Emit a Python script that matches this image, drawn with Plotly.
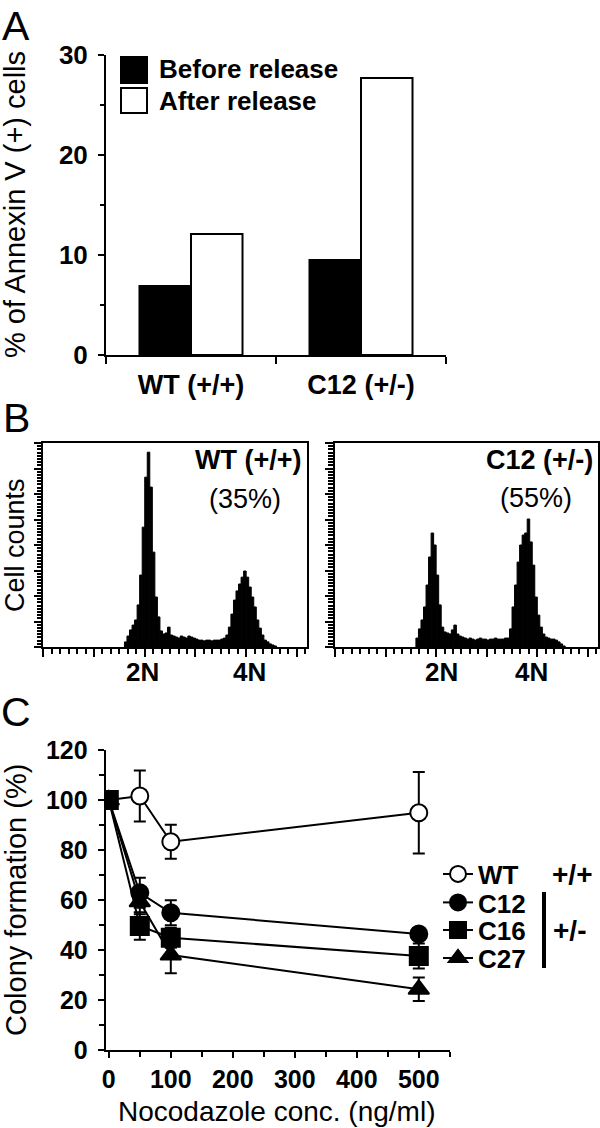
import plotly.graph_objects as go

W, H = 600, 1128
FONT = "Liberation Sans"

# ---------------- Panel A data ----------------
groups = ["WT (+/+)", "C12 (+/-)"]
before_release = [6.9, 9.5]
after_release = [12.1, 27.7]
a_yticks = [0, 10, 20, 30]

# ---------------- Panel B data (DNA content histograms) ----------------
bin_start = 320          # first channel of the first bin
bin_width = 10           # channels per bin
wt_counts = [20, 43, 67, 86, 106, 165, 282, 470, 666, 764, 627, 372, 196, 118, 63, 51, 55, 78, 47, 43,
             39, 35, 43, 39, 35, 43, 39, 35, 31, 27, 27, 24, 27, 27, 24, 27, 27, 27, 31, 35,
             47, 78, 129, 184, 220, 247, 274, 298, 274, 235, 196, 157, 106, 74, 47, 27, 20, 12, 8, 4]
c12_counts = [35, 71, 106, 157, 243, 353, 447, 400, 282, 165, 78, 59, 55, 51, 67, 86, 51, 43, 39, 35,
              31, 35, 31, 27, 31, 35, 31, 31, 27, 31, 31, 35, 31, 31, 31, 35, 35, 71, 157, 243,
              333, 400, 439, 447, 502, 412, 321, 196, 125, 78, 51, 39, 35, 31, 31, 27, 20, 12, 4]
ploidy_labels = ["2N", "4N"]
wt_ploidy_pos = [391, 815]
c12_ploidy_pos = [422, 777]
wt_title, wt_pct = "WT (+/+)", "(35%)"
c12_title, c12_pct = "C12 (+/-)", "(55%)"

# ---------------- Panel C data ----------------
conc = [0, 50, 100, 500]
wt_mean = [100, 101.6, 83.3, 94.9]
wt_err = [0, 10.2, 6.8, 16.3]
c12_mean = [100, 62.9, 54.9, 46.4]
c12_err = [0, 6.0, 5.0, 2.0]
c16_mean = [100, 49.6, 44.9, 37.6]
c16_err = [0, 5.5, 4.0, 5.0]
c27_mean = [100, 59.3, 38.0, 24.3]
c27_err = [0, 5.0, 7.3, 4.7]


def px(x):
    return x / W


def py(y):
    return 1 - y / H


def bold(size):
    return dict(family=FONT, size=size, color="black", weight="bold")


def reg(size):
    return dict(family=FONT, size=size, color="black")


fig = go.Figure()

# Panel A bars
fig.add_trace(go.Bar(x=groups, y=before_release, name="Before release",
                     marker=dict(color="black", line=dict(color="black", width=2)),
                     xaxis="x", yaxis="y", showlegend=False))
fig.add_trace(go.Bar(x=groups, y=after_release, name="After release",
                     marker=dict(color="white", line=dict(color="black", width=2)),
                     xaxis="x", yaxis="y", showlegend=False))

# Panel B histograms
wt_x = [bin_start + bin_width * (i + 0.5) for i in range(len(wt_counts))]
c12_x = [bin_start + bin_width * (i + 0.5) for i in range(len(c12_counts))]
fig.add_trace(go.Bar(x=wt_x, y=wt_counts, width=bin_width,
                     marker=dict(color="black", line=dict(color="black", width=1)),
                     xaxis="x2", yaxis="y2", showlegend=False))
fig.add_trace(go.Bar(x=c12_x, y=c12_counts, width=bin_width,
                     marker=dict(color="black", line=dict(color="black", width=1)),
                     xaxis="x3", yaxis="y3", showlegend=False))

# Panel C lines
series = [
    ("WT", wt_mean, wt_err, "circle", "white", 17, "legend"),
    ("C12", c12_mean, c12_err, "circle", "black", 17, "legend2"),
    ("C27", c27_mean, c27_err, "triangle-up", "black", 18, "legend4"),
    ("C16", c16_mean, c16_err, "square", "black", 18, "legend3"),
]
for name, mean, err, sym, fill, size, leg in series:
    fig.add_trace(go.Scatter(
        x=conc, y=mean, name=name, mode="lines+markers",
        line=dict(color="black", width=2),
        marker=dict(symbol=sym, color=fill, size=size, line=dict(color="black", width=2)),
        error_y=dict(type="data", array=err, color="black", thickness=2, width=6),
        xaxis="x4", yaxis="y4", legend=leg, showlegend=True))

axis_common = dict(showgrid=False, zeroline=False, showline=True, linecolor="black", ticks="outside",
                   tickcolor="black", automargin=False)

layout = dict(
    width=W, height=H, margin=dict(l=0, r=0, t=0, b=0, autoexpand=False),
    paper_bgcolor="white", plot_bgcolor="white",
    font=reg(27),
    barmode="group", bargap=0.394, bargroupgap=0,
    # Panel A
    xaxis=dict(axis_common, domain=[px(106), px(446)], anchor="y", type="category",
               range=[-0.5, 1.5], tickson="boundaries", ticklen=7, tickwidth=2, linewidth=2,
               tickfont=bold(27), ticklabelstandoff=5),
    yaxis=dict(axis_common, domain=[py(355), py(55)], anchor="x", range=[0, 30],
               tickvals=a_yticks, ticklen=6, tickwidth=2, linewidth=2, tickfont=bold(26),
               ticklabelstandoff=5,
               minor=dict(dtick=5, ticklen=4, tickwidth=2, ticks="outside", tickcolor="black")),
    # Panel B left
    xaxis2=dict(axis_common, domain=[px(43.3), px(307)], anchor="y2", range=[0, 1040], mirror=True,
                tick0=0, dtick=200, ticklen=8, tickwidth=1.5, linewidth=1.5, showticklabels=False,
                minor=dict(dtick=200 / 6, ticklen=5, tickwidth=1.5, ticks="outside", tickcolor="black")),
    yaxis2=dict(axis_common, domain=[py(647), py(443)], anchor="x2", range=[0, 800], mirror=True,
                dtick=100, ticklen=8, tickwidth=1.5, linewidth=1.5, showticklabels=False,
                minor=dict(dtick=12.5, ticklen=5, tickwidth=1.5, ticks="outside", tickcolor="black")),
    # Panel B right
    xaxis3=dict(axis_common, domain=[px(335), px(598)], anchor="y3", range=[0, 1040], mirror=True,
                tick0=0, dtick=200, ticklen=8, tickwidth=1.5, linewidth=1.5, showticklabels=False,
                minor=dict(dtick=200 / 6, ticklen=5, tickwidth=1.5, ticks="outside", tickcolor="black")),
    yaxis3=dict(axis_common, domain=[py(647), py(443)], anchor="x3", range=[0, 800], mirror=True,
                dtick=100, ticklen=8, tickwidth=1.5, linewidth=1.5, showticklabels=False,
                minor=dict(dtick=12.5, ticklen=5, tickwidth=1.5, ticks="outside", tickcolor="black")),
    # Panel C
    xaxis4=dict(axis_common, domain=[px(105.7), px(449.8)], anchor="y4", range=[-5, 550],
                dtick=100, ticklen=6, tickwidth=2, linewidth=2, tickfont=bold(25),
                minor=dict(dtick=50, ticklen=5, tickwidth=2, ticks="outside", tickcolor="black")),
    yaxis4=dict(axis_common, domain=[py(1050), py(750)], anchor="x4", range=[0, 120],
                dtick=20, ticklen=6, tickwidth=2, linewidth=2, tickfont=bold(25),
                ticklabelstandoff=5,
                minor=dict(dtick=10, ticklen=5, tickwidth=2, ticks="outside", tickcolor="black")),
)

leg_ys = {"legend": 874, "legend2": 902.5, "legend3": 930, "legend4": 958}
for key, yy in leg_ys.items():
    layout[key] = dict(x=px(438), y=py(yy), xanchor="left", yanchor="middle", font=bold(26),
                       bgcolor="rgba(0,0,0,0)", borderwidth=0, itemwidth=30)

fig.update_layout(**layout)

ann = []


def add_text(text, x, y, font, xanchor="center", yanchor="middle", angle=0, xref="paper", xval=None):
    ann.append(dict(text=text, x=(xval if xval is not None else px(x)), y=py(y), xref=xref, yref="paper",
                    xanchor=xanchor, yanchor=yanchor, showarrow=False, font=font, textangle=angle))


# Panel letters
add_text("A", 16, 1, reg(41), yanchor="top")
add_text("B", 16, 418, reg(41))
add_text("C", 16, 712, reg(41))
# Panel A
add_text("% of Annexin V (+) cells", 15, 205, reg(29), angle=-90)
add_text("Before release", 157, 69, bold(26), xanchor="left")
add_text("After release", 157, 101, bold(26), xanchor="left")
# Panel B
add_text("Cell counts", 15, 545, reg(27), angle=-90)
add_text(wt_title, 304, 460, bold(27), xanchor="right")
add_text(wt_pct, 245, 499, reg(27))
add_text(c12_title, 595, 460, bold(27), xanchor="right")
add_text(c12_pct, 536, 498, reg(27))
for lab, pos in zip(ploidy_labels, wt_ploidy_pos):
    add_text(lab, 0, 672, bold(26), xref="x2", xval=pos)
for lab, pos in zip(ploidy_labels, c12_ploidy_pos):
    add_text(lab, 0, 672, bold(26), xref="x3", xval=pos)
# Panel C
add_text("Colony formation (%)", 16, 900, reg(29), angle=-90)
add_text("Nocodazole conc. (ng/ml)", 276, 1111, reg(28))
add_text("+/+", 572, 874, bold(28))
add_text("+/-", 569, 930, bold(28))

shapes = [
    dict(type="rect", xref="paper", yref="paper", x0=px(121), x1=px(147), y0=py(83), y1=py(57),
         fillcolor="black", line=dict(color="black", width=2)),
    dict(type="rect", xref="paper", yref="paper", x0=px(121), x1=px(147), y0=py(113), y1=py(88),
         fillcolor="white", line=dict(color="black", width=2)),
    dict(type="line", xref="paper", yref="paper", x0=px(544), x1=px(544), y0=py(968), y1=py(892),
         line=dict(color="black", width=4)),
]
fig.update_layout(annotations=ann, shapes=shapes)

fig.write_html("out.html", config={"displayModeBar": False},
               post_script="document.body.style.margin='0';document.body.style.overflow='hidden';")
